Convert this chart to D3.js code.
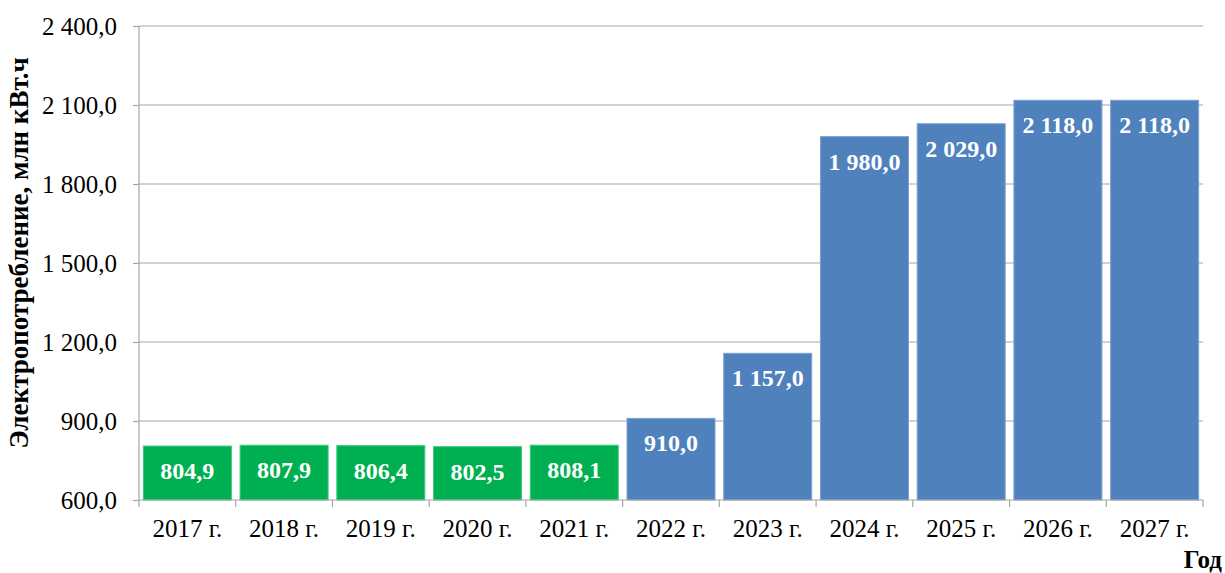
<!DOCTYPE html>
<html><head><meta charset="utf-8">
<script src="https://cdn.jsdelivr.net/npm/d3@7"></script>
<style>body{margin:0;background:#fff}svg{display:block}</style>
</head><body>
<svg id="c" width="1225" height="573"></svg>
<script>
const categories = ["2017 г.","2018 г.","2019 г.","2020 г.","2021 г.","2022 г.","2023 г.","2024 г.","2025 г.","2026 г.","2027 г."];
const values = [804.9, 807.9, 806.4, 802.5, 808.1, 910.0, 1157.0, 1980.0, 2029.0, 2118.0, 2118.0];
const isActual = [true, true, true, true, true, false, false, false, false, false, false];
const yTicks = [600, 900, 1200, 1500, 1800, 2100, 2400];

const fmt = v => {
  const s = v.toFixed(1).split(".");
  return s[0].replace(/\B(?=(\d{3})+(?!\d))/g, " ") + "," + s[1];
};

const svg = d3.select("#c");
const L = 139, R = 1203, T = 26, B = 500;
const x = d3.scaleBand().domain(categories).range([L, R]).paddingInner(0.09).paddingOuter(0.045);
const y = d3.scaleLinear().domain([600, 2400]).range([B, T]);
const font = "Liberation Serif, Times New Roman, serif";

// gridlines
svg.append("g").selectAll("line").data(yTicks.slice(1)).join("line")
  .attr("x1", L).attr("x2", R).attr("y1", d => y(d)).attr("y2", d => y(d))
  .attr("stroke", "#a6a6a6").attr("stroke-width", 1.2);

// bars
svg.append("g").selectAll("rect").data(values).join("rect")
  .attr("x", (d, i) => x(categories[i]))
  .attr("width", x.bandwidth())
  .attr("y", d => y(d))
  .attr("height", d => B - y(d))
  .attr("fill", (d, i) => isActual[i] ? "#00b050" : "#4f81bd")
  .attr("stroke", (d, i) => isActual[i] ? "#40c880" : "#7fa3d0")
  .attr("stroke-width", 1);

// labels
svg.append("g").selectAll("text").data(values).join("text")
  .attr("x", (d, i) => x(categories[i]) + x.bandwidth() / 2)
  .attr("y", d => y(d) + 33)
  .attr("text-anchor", "middle")
  .attr("fill", "#fff").attr("font-weight", "bold")
  .style("font-family", font).attr("font-size", 24)
  .text(d => fmt(d));

// y axis
const ya = d3.axisLeft(y).tickValues(yTicks).tickSize(6).tickPadding(16).tickFormat(fmt);
const gy = svg.append("g").attr("transform", `translate(${L},0)`).call(ya);
gy.select(".domain").attr("stroke", "#a6a6a6").attr("stroke-width", 1.2).attr("d", `M0,${B}V${T}`);
gy.selectAll(".tick line").attr("stroke", "#a6a6a6").attr("stroke-width", 1.2);
gy.selectAll(".tick text").style("font-family", font).attr("font-size", 25).attr("fill", "#000");

// x axis
const xa = d3.axisBottom(x).tickSize(0).tickPadding(0);
const gx = svg.append("g").attr("transform", `translate(0,${B})`).call(xa);
gx.select(".domain").attr("stroke", "#a6a6a6").attr("stroke-width", 1.2).attr("d", `M${L},0H${R}`);
gx.selectAll(".tick text").style("font-family", font).attr("font-size", 25).attr("fill", "#000")
  .attr("y", 37).attr("dy", 0);
// boundary ticks
const bounds = d3.range(categories.length + 1).map(i => L + (R - L) * i / categories.length);
svg.append("g").selectAll("line").data(bounds).join("line")
  .attr("x1", d => d).attr("x2", d => d).attr("y1", B).attr("y2", B + 7)
  .attr("stroke", "#a6a6a6").attr("stroke-width", 1.2);

// titles
svg.append("text").attr("transform", `translate(28,${(T + B) / 2 - 10}) rotate(-90)`)
  .attr("text-anchor", "middle").style("font-family", font).attr("font-weight", "bold")
  .attr("font-size", 27).attr("fill", "#000").text("Электропотребление, млн кВт.ч");
svg.append("text").attr("x", 1222).attr("y", 568).attr("text-anchor", "end")
  .style("font-family", font).attr("font-weight", "bold").attr("font-size", 25).attr("fill", "#000").text("Год");
</script>
</body></html>
